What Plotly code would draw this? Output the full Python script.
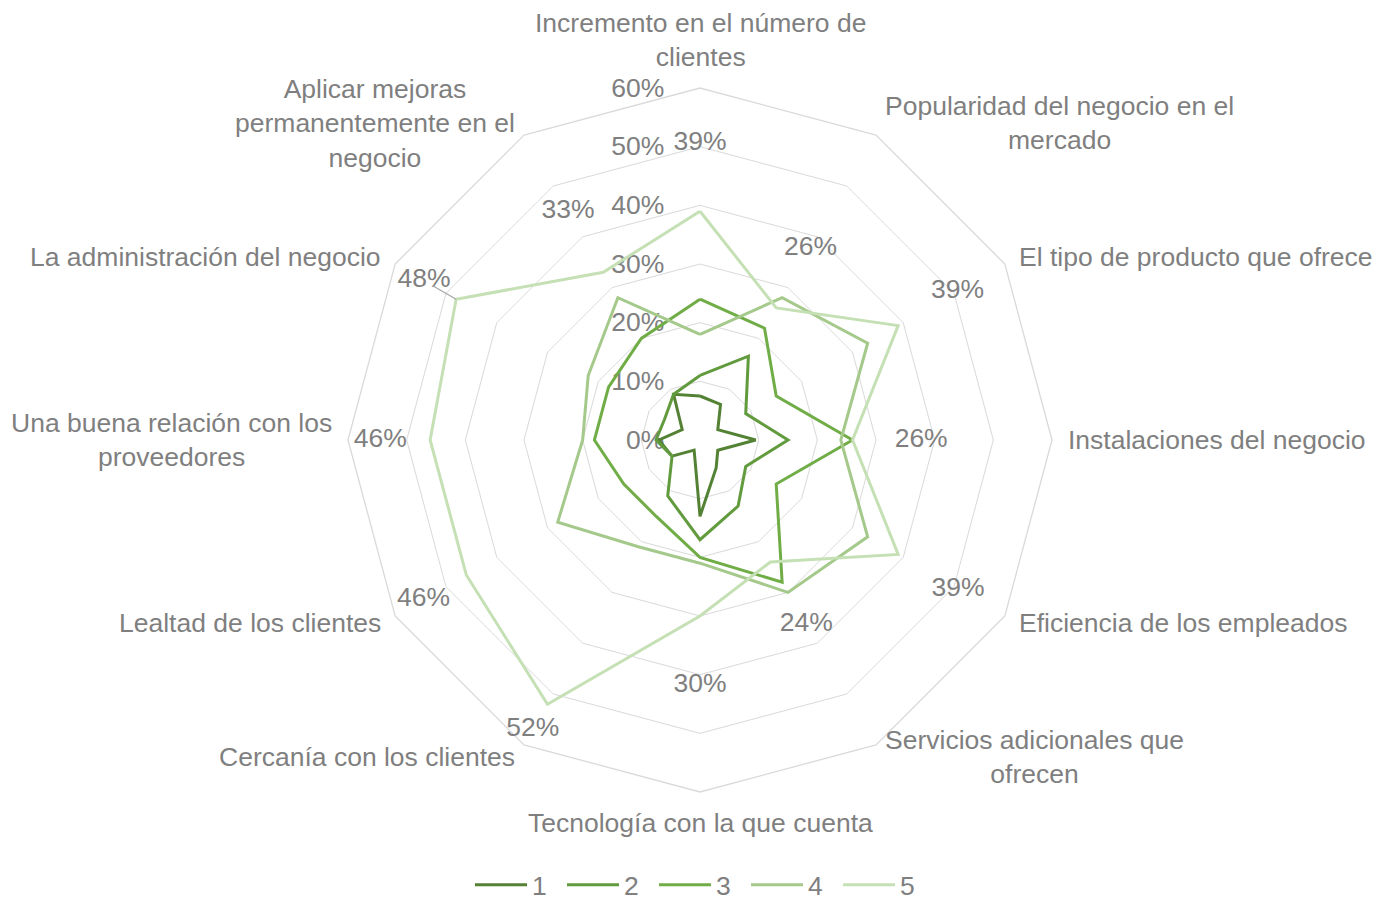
import math
import plotly.graph_objects as go

# Categories, clockwise from the top
categories = [
    "Incremento en el número de<br>clientes",
    "Popularidad del negocio en el<br>mercado",
    "El tipo de producto que ofrece",
    "Instalaciones del negocio",
    "Eficiencia de los empleados",
    "Servicios adicionales que<br>ofrecen",
    "Tecnología con la que cuenta",
    "Cercanía con los clientes",
    "Lealtad de los clientes",
    "Una buena relación con los<br>proveedores",
    "La administración del negocio",
    "Aplicar mejoras<br>permanentemente en el<br>negocio",
]

series_names = ["1", "2", "3", "4", "5"]

# Percentages per rating level
s1 = [7.5, 7, 3.5, 9.5, 3.5, 5.5, 13, 2, 5.5, 7, 3.5, 9]
s2 = [11, 16.5, 9, 15, 9, 13, 17, 11, 5.5, 7.5, 7, 9]
s3 = [24, 22, 15, 26, 15, 28, 20, 15, 15, 18, 18, 20]
s4 = [18, 28, 33, 24, 33, 30, 21, 21, 28, 20, 22, 28]
s5 = [39, 26, 39, 26, 39, 24, 30, 52, 46, 46, 48, 33]

radial_ticks = [0, 10, 20, 30, 40, 50, 60]

colors = ["#548235", "#629a3e", "#70ad47", "#a4c98b", "#c5e0b4"]
grey_text = "#7f7f7f"
grid_grey = "#d9d9d9"
FONT = "Liberation Sans, Arial, sans-serif"
FS = 26.5

# page geometry
W, H = 1375, 905
M = dict(t=88, b=113, l=50, r=25)
R_PX = min(W - M["l"] - M["r"], H - M["t"] - M["b"]) / 2  # radius of the 60% ring
LABEL_PAD = 14

# radial distance of each value label beyond its point (in % units)
label_offsets = [11.6, 11.7, 11.7, 11.7, 11.8, 12.2, 11.9, 5.0, 8.4, 8.5, 6.3, 12.0]

fig = go.Figure()

for name, vals, col in zip(series_names, [s1, s2, s3, s4, s5], colors):
    fig.add_trace(go.Scatterpolar(
        r=vals + vals[:1],
        theta=categories + categories[:1],
        mode="lines",
        name=name,
        line=dict(color=col, width=3),
        hoverinfo="skip",
    ))

# value labels for level 5
fig.add_trace(go.Scatterpolar(
    r=[v + o for v, o in zip(s5, label_offsets)],
    theta=categories,
    mode="text",
    text=[f"{v:g}%" for v in s5],
    textfont=dict(family=FONT, size=FS, color=grey_text),
    textposition="middle center",
    showlegend=False,
    hoverinfo="skip",
    cliponaxis=False,
))

# leader line for the "La administración" label
k = 10
fig.add_trace(go.Scatterpolar(
    r=[s5[k], s5[k] + 4.6],
    theta=[categories[k], categories[k]],
    mode="lines",
    line=dict(color="#a6a6a6", width=1.3),
    showlegend=False,
    hoverinfo="skip",
))

# category labels just outside the outer ring, multi-line text centred
n = len(categories)
annotations = []
for i, cat in enumerate(categories):
    ang = 2 * math.pi * i / n
    s, c = math.sin(ang), math.cos(ang)
    if abs(s) < 1e-6:
        xa = "center"
        ya = "bottom" if c > 0 else "top"
    else:
        xa = "left" if s > 0 else "right"
        ya = "middle"
    annotations.append(dict(
        xref="paper", yref="paper", x=0.5, y=0.5,
        xshift=(R_PX + LABEL_PAD) * s,
        yshift=(R_PX + LABEL_PAD) * c,
        text=cat, showarrow=False, align="center",
        xanchor=xa, yanchor=ya,
        font=dict(family=FONT, size=FS, color=grey_text),
    ))

fig.update_layout(
    width=W,
    height=H,
    paper_bgcolor="white",
    plot_bgcolor="white",
    margin=dict(t=M["t"], b=M["b"], l=M["l"], r=M["r"], autoexpand=False),
    font=dict(family=FONT, size=FS, color=grey_text),
    annotations=annotations,
    polar=dict(
        bgcolor="white",
        gridshape="linear",
        radialaxis=dict(
            range=[0, 60],
            tickvals=radial_ticks,
            ticktext=[f"{t}%" for t in radial_ticks],
            angle=90,
            tickangle=90,
            side="counterclockwise",
            showline=False,
            ticks="outside",
            ticklen=26,
            tickcolor="rgba(0,0,0,0)",
            showgrid=True,
            gridcolor=grid_grey,
            gridwidth=1.3,
            layer="below traces",
            tickfont=dict(family=FONT, size=FS, color=grey_text),
        ),
        angularaxis=dict(
            type="category",
            direction="clockwise",
            rotation=90,
            showgrid=False,
            showline=True,
            linecolor=grid_grey,
            linewidth=1.3,
            ticks="",
            showticklabels=False,
            layer="below traces",
        ),
    ),
    legend=dict(
        orientation="h",
        x=0.5,
        xanchor="center",
        y=-(885 - (H - M["b"])) / (H - M["t"] - M["b"]),
        yanchor="middle",
        font=dict(family=FONT, size=FS, color=grey_text),
        itemwidth=52,
        entrywidth=25,
        traceorder="normal",
    ),
)

fig.write_html("out.html")
